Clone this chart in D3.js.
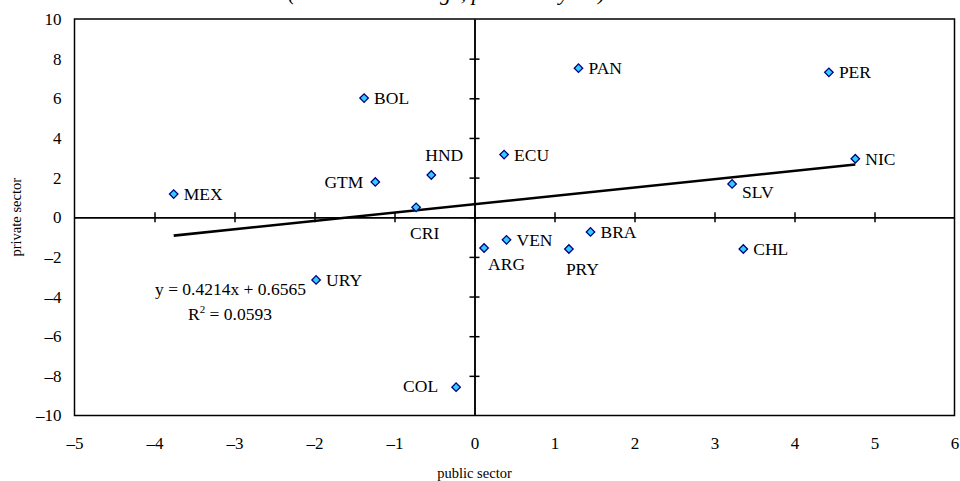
<!DOCTYPE html>
<html>
<head>
<meta charset="utf-8">
<script src="https://cdn.jsdelivr.net/npm/d3@7"></script>
<style>
  body { margin: 0; background: #fff; }
  svg { display: block; font-family: "Liberation Serif", "Times New Roman", serif; }
</style>
</head>
<body>
<script>
// data
const countries = ["MEX", "BOL", "GTM", "HND", "CRI", "ECU", "PAN", "PER", "NIC", "SLV", "BRA", "VEN", "ARG", "PRY", "CHL", "URY", "COL"];
const publicSector = [-3.76, -1.38, -1.24, -0.54, -0.73, 0.37, 1.30, 4.43, 4.76, 3.22, 1.45, 0.40, 0.12, 1.18, 3.36, -1.98, -0.23];
const privateSector = [1.17, 6.01, 1.78, 2.13, 0.50, 3.16, 7.52, 7.31, 2.95, 1.68, -0.74, -1.14, -1.55, -1.60, -1.60, -3.16, -8.57];
const xTicks = [-5, -4, -3, -2, -1, 0, 1, 2, 3, 4, 5, 6];
const yTicks = [-10, -8, -6, -4, -2, 0, 2, 4, 6, 8, 10];
const trend = { slope: 0.4214, intercept: 0.6565, r2: 0.0593 };
// ----------

const w = 960;
const h = 481;
const p = { t: 19, r: 5.5, b: 65.5, l: 74.5 };

// label placement (offsets from the marker)
const labelPos = {
  GTM: { dx: -12, dy: 6, anchor: "end" },
  HND: { dx: -6, dy: -14, anchor: "start" },
  CRI: { dx: -6, dy: 32, anchor: "start" },
  ARG: { dx: 4, dy: 22, anchor: "start" },
  PRY: { dx: -3, dy: 26, anchor: "start" },
  SLV: { dx: 10, dy: 14, anchor: "start" },
  COL: { dx: -18, dy: 5, anchor: "end" },
};
const defPos = { dx: 10, dy: 6, anchor: "start" };

const svg = d3.select("body").append("svg").attr("width", w).attr("height", h);

const x = d3.scaleLinear().domain([-5, 6]).range([p.l, w - p.r]);
const y = d3.scaleLinear().domain([-10, 10]).range([h - p.b, p.t]);

const fmt = (d) => (d < 0 ? "\u2013" + Math.abs(d) : `${d}`);

// title (cut off at the top edge, as in the source)
svg
  .append("text")
  .text("(cumulative change, percent a year)")
  .attr("x", 288)
  .attr("y", 0)
  .attr("font-size", 22)
  .attr("font-style", "italic")
  .attr("fill", "#000");

// tick labels
svg
  .append("g")
  .attr("transform", `translate(${p.l},0)`)
  .call(d3.axisLeft(y).tickValues(yTicks).tickSize(0).tickPadding(13).tickFormat(fmt))
  .call((g) => g.select(".domain").remove())
  .call((g) => g.selectAll("text").attr("font-size", 17).attr("font-family", "Liberation Serif"));

svg
  .append("g")
  .attr("transform", `translate(0,${h - p.b})`)
  .call(d3.axisBottom(x).tickValues(xTicks).tickSize(0).tickPadding(21).tickFormat(fmt))
  .call((g) => g.select(".domain").remove())
  .call((g) => g.selectAll("text").attr("font-size", 17).attr("font-family", "Liberation Serif"));

// axis titles
svg
  .append("text")
  .text("public sector")
  .attr("x", x(0))
  .attr("y", 478)
  .attr("text-anchor", "middle")
  .attr("font-size", 14.5);

svg
  .append("text")
  .text("private sector")
  .attr("transform", `translate(21,${y(0)}) rotate(-90)`)
  .attr("text-anchor", "middle")
  .attr("font-size", 14.5);

// zero axes with crossing ticks
const innerX = xTicks.filter((d) => d > -5 && d < 6);
const innerY = yTicks.filter((d) => d > -10 && d < 10);
[d3.axisBottom, d3.axisTop].forEach((ax) => {
  svg
    .append("g")
    .attr("class", "zx")
    .attr("transform", `translate(0,${y(0)})`)
    .call(ax(x).tickValues(innerX).tickSize(5).tickSizeOuter(0).tickFormat(""));
});
[d3.axisLeft, d3.axisRight].forEach((ax) => {
  svg
    .append("g")
    .attr("class", "zy")
    .attr("transform", `translate(${x(0)},0)`)
    .call(ax(y).tickValues(innerY).tickSize(5).tickSizeOuter(0).tickFormat(""));
});
svg.selectAll(".zx path, .zx line, .zy path, .zy line").attr("stroke", "#000").attr("stroke-width", 1.5);

// plot frame
svg
  .append("rect")
  .attr("x", p.l)
  .attr("y", p.t)
  .attr("width", w - p.r - p.l)
  .attr("height", h - p.b - p.t)
  .attr("fill", "none")
  .attr("stroke", "#000")
  .attr("stroke-width", 1.5);

// trend line
const xMin = d3.min(publicSector);
const xMax = d3.max(publicSector);
svg
  .append("line")
  .attr("x1", x(xMin))
  .attr("y1", y(trend.slope * xMin + trend.intercept))
  .attr("x2", x(xMax))
  .attr("y2", y(trend.slope * xMax + trend.intercept))
  .attr("stroke", "#000")
  .attr("stroke-width", 2.6);

// equation
const eq = svg.append("g").attr("font-size", 17.5);
eq.append("text").text(`y = ${trend.slope}x + ${trend.intercept}`).attr("x", 155).attr("y", 295);
const r2 = eq.append("text").attr("x", 188).attr("y", 320);
r2.append("tspan").text("R");
r2.append("tspan").text("2").attr("font-size", 11).attr("dy", -7);
r2.append("tspan").text(` = ${trend.r2.toFixed(4)}`).attr("dy", 7);

// points
const pts = countries.map((c, i) => ({ c, px: publicSector[i], py: privateSector[i] }));
const marker = d3.symbol().type(d3.symbolSquare).size(36);

svg
  .append("g")
  .selectAll("path")
  .data(pts)
  .enter()
  .append("path")
  .attr("d", marker)
  .attr("transform", (d) => `translate(${x(d.px)},${y(d.py)}) rotate(45)`)
  .attr("fill", "#33ccff")
  .attr("stroke", "#000080")
  .attr("stroke-width", 1.3);

svg
  .append("g")
  .attr("font-size", 17.5)
  .selectAll("text")
  .data(pts)
  .enter()
  .append("text")
  .text((d) => d.c)
  .attr("x", (d) => x(d.px) + (labelPos[d.c] || defPos).dx)
  .attr("y", (d) => y(d.py) + (labelPos[d.c] || defPos).dy)
  .attr("text-anchor", (d) => (labelPos[d.c] || defPos).anchor)
  .attr("fill", "#000");
</script>
</body>
</html>
